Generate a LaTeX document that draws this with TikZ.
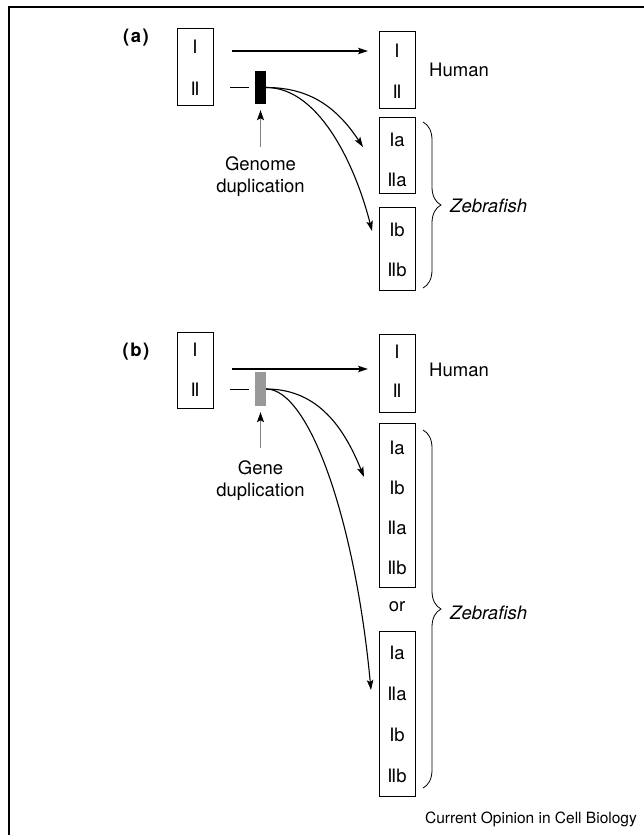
\documentclass[tikz,border=0pt]{standalone}
\usepackage{fontspec}
\setmainfont{TeX Gyre Heros}
\usetikzlibrary{positioning,arrows.meta,decorations.pathreplacing}
\newcommand{\twobar}{I\kern-1.5pt I}
\tikzset{
	gbox/.style={draw, line width=0.9pt, minimum width=36pt, inner sep=0pt},
	lbl/.style={font=\fontsize{18.5}{22}\selectfont, inner sep=1pt},
	plab/.style={font=\fontsize{18.5}{22}\selectfont\bfseries, inner sep=1pt},
	arr/.style={line width=1.1pt, -{Stealth[length=10pt,width=6.5pt,inset=2pt]}},
	stub/.style={line width=1pt},
	duparr/.style={line width=1pt, gray, -{Stealth[length=10pt,width=7pt,inset=2pt,color=black]}},
	zbrace/.style={line width=0.8pt, decorate, decoration={brace, amplitude=18pt, aspect=0.5}},
}
\begin{document}
\begin{tikzpicture}[x=1pt, y=-1pt]
	\useasboundingbox (0,0) rectangle (644,835);
	% frame
	\draw[line width=1.2pt] (9,835) -- (9,7) -- (644,7);
	%% part a
	\node[plab] (alab) at (136,38) {(\kern1.5pt a\kern1.5pt)};
	\node[gbox, minimum height=77pt] (a0) at (195,66.5) {};
	\node[lbl, below =19pt of a0.north, anchor=center] (a0i) {I};
	\node[lbl, below =61pt of a0.north, anchor=center] (a0ii) {\twobar};
	\node[gbox, minimum height=77pt] (aH) at (397,69.5) {};
	\node[lbl, below =20pt of aH.north, anchor=center] (aHi) {I};
	\node[lbl, below =61pt of aH.north, anchor=center] (aHii) {\twobar};
	\node[lbl, anchor=west] (ahum) at (428,70) {Human};
	\node[gbox, minimum height=76pt] (aA) at (397,155) {};
	\node[lbl, below =23pt of aA.north, anchor=center] (aAi) {Ia};
	\node[lbl, below =63pt of aA.north, anchor=center] (aAii) {\twobar a};
	\node[gbox, minimum height=83pt] (aB) at (397,248.5) {};
	\node[lbl, below =23pt of aB.north, anchor=center] (aBi) {Ib};
	\node[lbl, below =63pt of aB.north, anchor=center] (aBii) {\twobar b};
	\node[fill=black, minimum width=11pt, minimum height=33pt, inner sep=0pt] (adup) at (260.5,87.5) {};
	\node[lbl, align=center, anchor=north] (agen) at (260.5,155) {Genome\\duplication};
	\node[lbl, anchor=west] (azeb) at (449,206) {\itshape Zebrafish};
	\coordinate (aS) at (232,51);
	\coordinate (aE) at (368,51);
	\coordinate (aT1) at (363,147);
	\coordinate (aT2) at (372,231);
	\draw[arr] (aS) -- (aE);
	\draw[stub] ([xshift=-6pt]adup.west) -- ([xshift=-25pt]adup.west);
	\draw[duparr] ([yshift=8pt]agen.north) -- ([yshift=-6pt]adup.south);
	\draw[arr] (adup.east) .. controls +(45,0) and +(-25,-38) .. (aT1);
	\draw[arr] (adup.east) .. controls +(55,0) and +(-15,-60) .. (aT2);
	\draw[zbrace] (423,122) -- (423,288);
	%% part b
	\node[plab] (blab) at (136,352) {(\kern1.5pt b\kern1.5pt)};
	\node[gbox, minimum height=76pt] (b0) at (195,370) {};
	\node[lbl, below =18pt of b0.north, anchor=center] (b0i) {I};
	\node[lbl, below =58pt of b0.north, anchor=center] (b0ii) {\twobar};
	\node[gbox, minimum height=78pt] (bH) at (397,373) {};
	\node[lbl, below =18pt of bH.north, anchor=center] (bHi) {I};
	\node[lbl, below =57pt of bH.north, anchor=center] (bHii) {\twobar};
	\node[lbl, anchor=west] (bhum) at (428,370) {Human};
	\node[gbox, minimum height=164pt] (bA) at (397,505) {};
	\node[lbl, below =25pt of bA.north, anchor=center] (bA1) {Ia};
	\node[lbl, below =65pt of bA.north, anchor=center] (bA2) {Ib};
	\node[lbl, below =105pt of bA.north, anchor=center] (bA3) {\twobar a};
	\node[lbl, below =145pt of bA.north, anchor=center] (bA4) {\twobar b};
	\node[lbl] (bor) at (397,607) {or};
	\node[gbox, minimum height=165pt] (bB) at (397,713.5) {};
	\node[lbl, below =22pt of bB.north, anchor=center] (bB1) {Ia};
	\node[lbl, below =63pt of bB.north, anchor=center] (bB2) {\twobar a};
	\node[lbl, below =104pt of bB.north, anchor=center] (bB3) {Ib};
	\node[lbl, below =145pt of bB.north, anchor=center] (bB4) {\twobar b};
	\node[fill=black!40, minimum width=11pt, minimum height=34pt, inner sep=0pt] (bdup) at (260.5,389) {};
	\node[lbl, align=center, anchor=north] (bgen) at (260.5,459) {Gene\\duplication};
	\node[lbl, anchor=west] (bzeb) at (449,613) {\itshape Zebrafish};
	\coordinate (bS) at (232,369);
	\coordinate (bE) at (368,369);
	\coordinate (bT1) at (364,477);
	\coordinate (bT2) at (371,690);
	\draw[arr] (bS) -- (bE);
	\draw[stub] ([xshift=-6pt]bdup.west) -- ([xshift=-25pt]bdup.west);
	\draw[duparr] ([yshift=11pt]bgen.north) -- ([yshift=-6pt]bdup.south);
	\draw[arr] (bdup.east) .. controls +(53,0) and +(-19,-47) .. (bT1);
	\draw[arr] (bdup.east) .. controls +(43,0) and +(-16,-170) .. (bT2);
	\draw[zbrace] (423,430) -- (423,788);
	% credit
	\node[font=\fontsize{15.5}{18}\selectfont, anchor=east, inner sep=0pt] (cred) at (637,819) {Current Opinion in Cell Biology};
\end{tikzpicture}
\end{document}
